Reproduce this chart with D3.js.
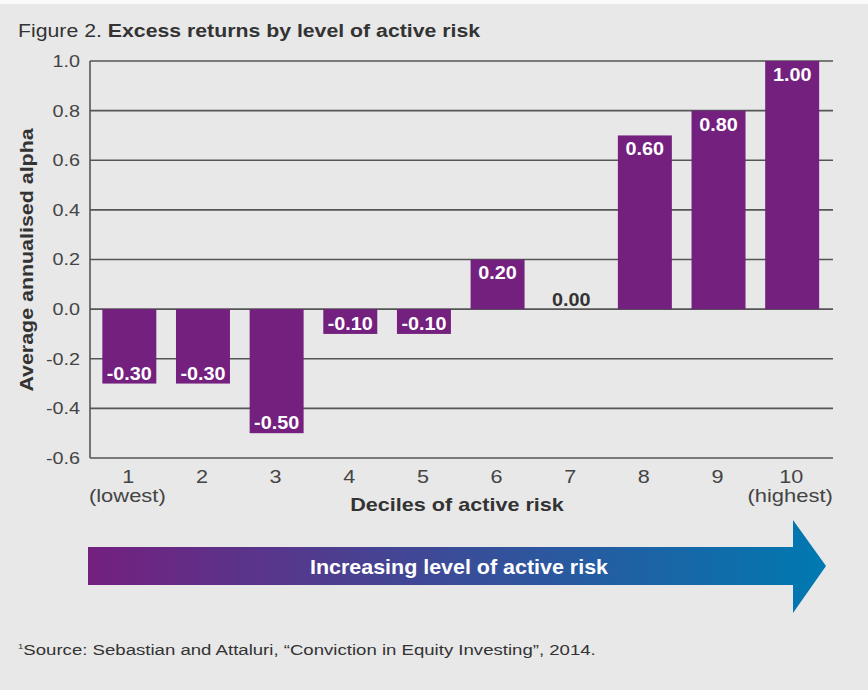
<!DOCTYPE html>
<html>
<head>
<meta charset="utf-8">
<script src="https://cdn.jsdelivr.net/npm/d3@7"></script>
<style>
  body { margin: 0; background: #e8e8e8; }
  svg { display: block; font-family: "Liberation Sans", Arial, sans-serif; }
</style>
</head>
<body>
<svg width="868" height="690" class="chart"></svg>
<script>
var deciles = ["1", "2", "3", "4", "5", "6", "7", "8", "9", "10"];
var subLabels = ["(lowest)", "", "", "", "", "", "", "", "", "(highest)"];
// bar heights as drawn in the figure (decile 8 is drawn at 0.7 but labelled 0.60)
var barHeights = [-0.30, -0.30, -0.50, -0.10, -0.10, 0.20, 0.00, 0.70, 0.80, 1.00];
var barLabels = ["-0.30", "-0.30", "-0.50", "-0.10", "-0.10", "0.20", "0.00", "0.60", "0.80", "1.00"];
var yTicks = [-0.6, -0.4, -0.2, 0.0, 0.2, 0.4, 0.6, 0.8, 1.0];

var svg = d3.select(".chart");
var purple = "#74207f", blue = "#0079b1", ink = "#333";
var sx = 1.2; // the source font is wider than Liberation Sans

svg.append("rect").attr("width", 868).attr("height", 4).attr("fill", "#fafafa");

// title
var title = svg.append("text")
  .attr("transform", "translate(18,37) scale(1.15,1)")
  .attr("font-size", 18.5).attr("fill", ink);
title.append("tspan").text("Figure 2. ");
title.append("tspan").attr("font-weight", "bold").text("Excess returns by level of active risk");

var x = d3.scaleBand().domain(deciles).range([92.5, 829])
  .paddingInner(0.267).paddingOuter(0.1335);
var y = d3.scaleLinear().domain([-0.6, 1.0]).range([458, 61]);
var left = 90, right = 833;

var fmt = function(d) { return d.toFixed(1); };
var cx = function(i) { return x(deciles[i]) + x.bandwidth() / 2; };

// grid lines
svg.selectAll(".grid").data(yTicks).enter().append("line")
  .attr("class", "grid")
  .attr("x1", left).attr("x2", right)
  .attr("y1", function(d) { return y(d); })
  .attr("y2", function(d) { return y(d); })
  .attr("stroke", "#555").attr("stroke-width", 1.6);

svg.append("line").attr("x1", left).attr("x2", left)
  .attr("y1", y(1.0)).attr("y2", y(-0.6))
  .attr("stroke", "#555").attr("stroke-width", 1.6);

// y axis labels
svg.selectAll(".ytick").data(yTicks).enter().append("text")
  .attr("class", "ytick")
  .attr("transform", function(d) { return "translate(80," + y(d) + ") scale(" + sx + ",1)"; })
  .attr("dy", "0.36em").attr("text-anchor", "end")
  .attr("font-size", 16.5).attr("fill", "#444")
  .text(fmt);

svg.append("text")
  .attr("transform", "translate(33,260) rotate(-90) scale(1.19,1)")
  .attr("text-anchor", "middle").attr("font-size", 18)
  .attr("font-weight", "bold").attr("fill", ink)
  .text("Average annualised alpha");

// bars
svg.selectAll(".bar").data(barHeights).enter().append("rect")
  .attr("class", "bar")
  .attr("x", function(d, i) { return x(deciles[i]); })
  .attr("width", x.bandwidth())
  .attr("y", function(d) { return y(Math.max(0, d)); })
  .attr("height", function(d) { return Math.abs(y(d) - y(0)); })
  .attr("fill", purple);

svg.selectAll(".val").data(barHeights).enter().append("text")
  .attr("class", "val")
  .attr("transform", function(d, i) {
    var ty;
    if (d > 0) ty = y(d) + 13.5;
    else if (d < 0) ty = y(d) - 10.5;
    else ty = y(0) - 10;
    return "translate(" + cx(i) + "," + ty + ") scale(1.1,1)";
  })
  .attr("dy", "0.36em").attr("text-anchor", "middle")
  .attr("font-size", 18).attr("font-weight", "bold")
  .attr("fill", function(d) { return d === 0 ? ink : "#fff"; })
  .text(function(d, i) { return barLabels[i]; });

// x axis labels
svg.selectAll(".xtick").data(deciles).enter().append("text")
  .attr("class", "xtick")
  .attr("transform", function(d, i) { return "translate(" + (cx(i) - 1) + ",483) scale(" + sx + ",1)"; })
  .attr("text-anchor", "middle")
  .attr("font-size", 18).attr("fill", "#444")
  .text(function(d) { return d; });

svg.selectAll(".xsub").data(subLabels).enter().append("text")
  .attr("class", "xsub")
  .attr("transform", function(d, i) { return "translate(" + (cx(i) - 2) + ",502) scale(1.22,1)"; })
  .attr("text-anchor", "middle")
  .attr("font-size", 18).attr("fill", "#444")
  .text(function(d) { return d; });

svg.append("text")
  .attr("transform", "translate(457,511) scale(1.2,1)")
  .attr("text-anchor", "middle").attr("font-size", 18)
  .attr("font-weight", "bold").attr("fill", ink)
  .text("Deciles of active risk");

// gradient arrow
var grad = svg.append("defs").append("linearGradient")
  .attr("id", "arrowGrad").attr("gradientUnits", "userSpaceOnUse")
  .attr("x1", 88).attr("x2", 826).attr("y1", 0).attr("y2", 0);
grad.append("stop").attr("offset", "0%").attr("stop-color", purple);
grad.append("stop").attr("offset", "100%").attr("stop-color", blue);

svg.append("path")
  .attr("d", "M88,547 L793,547 L793,520 L826,566 L793,613 L793,585 L88,585 Z")
  .attr("fill", "url(#arrowGrad)");

svg.append("text").attr("x", 459).attr("y", 566).attr("dy", "0.36em")
  .attr("text-anchor", "middle").attr("font-size", 21)
  .attr("font-weight", "bold").attr("fill", "#fff")
  .attr("textLength", 298).attr("lengthAdjust", "spacingAndGlyphs")
  .text("Increasing level of active risk");

// footnote
var foot = svg.append("text")
  .attr("transform", "translate(18,655) scale(1.2,1)")
  .attr("font-size", 15.5).attr("fill", ink);
foot.append("tspan").attr("font-size", 8).attr("dy", -6).text("1");
foot.append("tspan").attr("dy", 6).text("Source: Sebastian and Attaluri, \u201CConviction in Equity Investing\u201D, 2014.");
</script>
</body>
</html>
